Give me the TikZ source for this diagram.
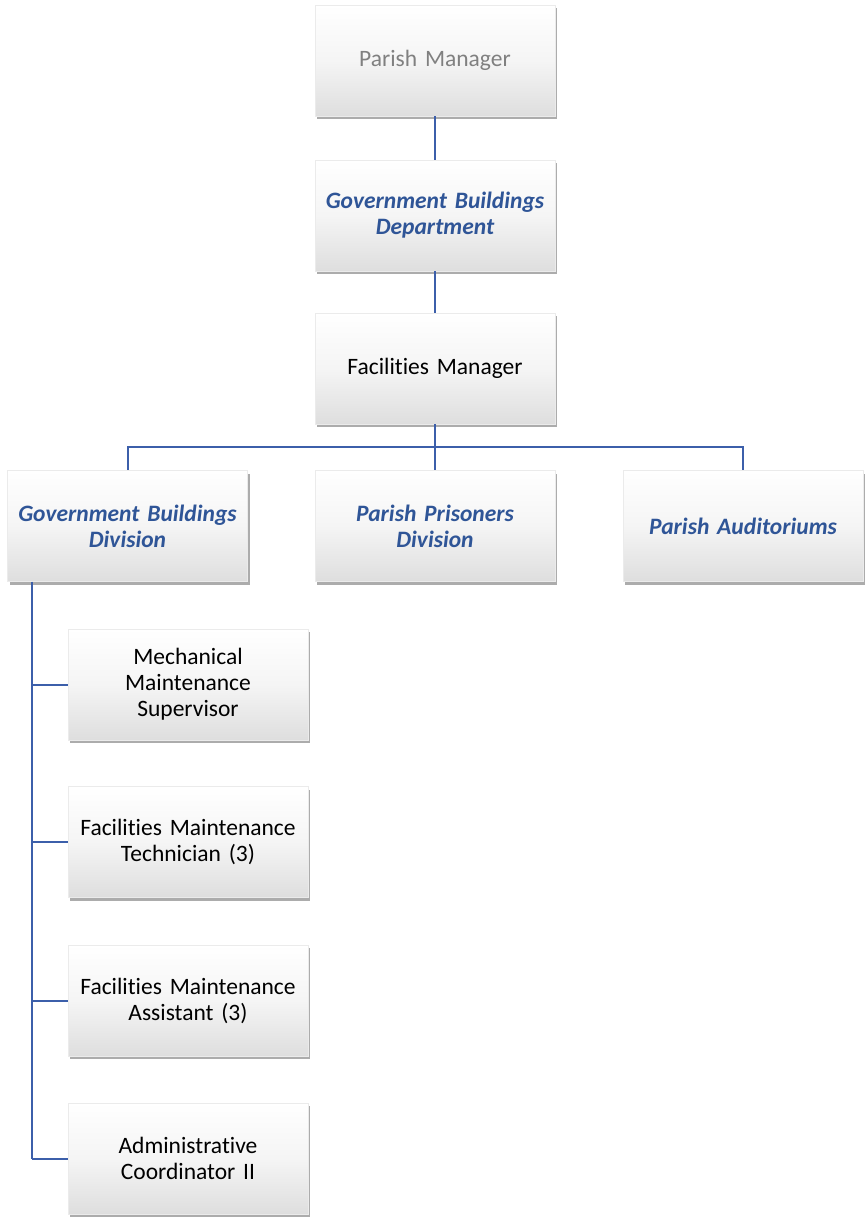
\documentclass[tikz,border=0pt]{standalone}
\usepackage{fontspec}
\setmainfont[Ligatures={NoCommon}]{Carlito}
\usetikzlibrary{shadows}
\definecolor{deptblue}{RGB}{47,85,151}
\definecolor{linkblue}{RGB}{60,95,170}
\definecolor{greytext}{RGB}{128,128,128}
\tikzset{
  orgbox/.style={rectangle, minimum width=240pt, minimum height=111pt, inner sep=2pt,
    text width=236pt, align=center, draw=black!8, line width=0.4pt,
    top color=white, bottom color=black!13, middle color=white!96!black,
    drop shadow={shadow xshift=2pt, shadow yshift=-3pt, opacity=0.5, fill=black!65},
    font=\fontsize{23.5}{26}\selectfont},
  deptlabel/.style={text=deptblue, font=\fontsize{23.5}{26}\selectfont\bfseries\itshape},
  link/.style={draw=linkblue, line width=2pt}
}
\begin{document}
\begin{tikzpicture}[x=1pt,y=-1pt]
\useasboundingbox (0,0) rectangle (867,1219);
\node[orgbox, text=greytext] (pm) at (435,60.5) {Parish Manager};
\node[orgbox, deptlabel] (gbd) at (435,215.5) {Government Buildings\\Department};
\node[orgbox] (fm) at (435,368.5) {Facilities Manager};
\node[orgbox, deptlabel] (gbdiv) at (127.5,526) {Government Buildings\\Division};
\node[orgbox, deptlabel] (ppd) at (435,526) {Parish Prisoners\\Division};
\node[orgbox, deptlabel] (pa) at (743,526) {Parish Auditoriums};
\node[orgbox] (mms) at (188,684.5) {Mechanical\\Maintenance\\Supervisor};
\node[orgbox] (fmt) at (188,842) {Facilities Maintenance\\Technician (3)};
\node[orgbox] (fma) at (188,1000.5) {Facilities Maintenance\\Assistant (3)};
\node[orgbox] (ac) at (188,1158.5) {Administrative\\Coordinator II};
\coordinate (bus) at (435,447);
\coordinate (spine) at (32,1158.5);
\draw[link] (pm.south) -- (gbd.north);
\draw[link] (gbd.south) -- (fm.north);
\draw[link] (fm.south) -- (bus);
\draw[link] (bus) -| (gbdiv.north);
\draw[link] (bus) -- (ppd.north);
\draw[link] (bus) -| (pa.north);
\draw[link] (gbdiv.south -| spine) -- (spine);
\draw[link] (mms.west -| spine) -- (mms.west);
\draw[link] (fmt.west -| spine) -- (fmt.west);
\draw[link] (fma.west -| spine) -- (fma.west);
\draw[link] (spine) -- (ac.west);
\end{tikzpicture}
\end{document}
